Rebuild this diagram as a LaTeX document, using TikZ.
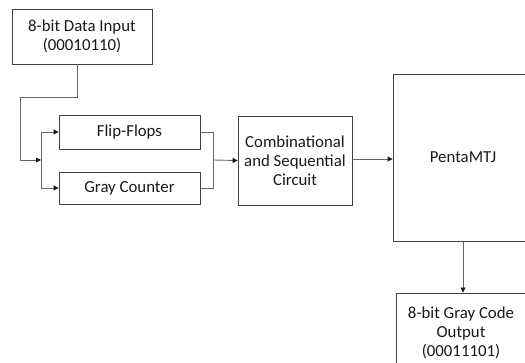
\documentclass[tikz,border=0pt]{standalone}
\usepackage{fontspec}
\setmainfont{Carlito}
\usetikzlibrary{arrows.meta}
\begin{document}
\begin{tikzpicture}[x=1pt,y=-1pt,
  blk/.style={draw=black!75, line width=0.9pt, inner sep=0pt, align=center,
    font=\fontsize{16.8}{19}\selectfont, text=black!90},
  conn/.style={draw=black!60, line width=0.9pt},
  arr/.style={conn, -{Triangle[length=5pt,width=5pt,fill=black!90,color=black!90]}}]
\useasboundingbox (0,0) rectangle (525,363);
\clip (0,0) rectangle (525,363);
\node[blk, minimum width=140pt, minimum height=55pt] (in) at (82,36.5) {8-bit Data Input\\(00010110)};
\node[blk, minimum width=141pt, minimum height=34pt] (ff) at (129.5,132) {Flip-Flops};
\node[blk, minimum width=141pt, minimum height=32pt] (gc) at (129.5,188) {Gray Counter};
\node[blk, minimum width=114pt, minimum height=89pt] (cs) at (295,160.5) {Combinational\\and Sequential\\Circuit};
\node[blk, minimum width=140pt, minimum height=167pt] (pm) at (463,157.5) {PentaMTJ};
\node[blk, minimum width=130pt, minimum height=78pt, text depth=0pt] (out) at (461,332) {8-bit Gray Code\\Output\\(00011101)};
\coordinate (a1) at (77,64);
\coordinate (a2) at (77,97);
\coordinate (a3) at (20,97);
\coordinate (a4) at (20,160);
\coordinate (sp) at (41,160);
\coordinate (spT) at (41,132);
\coordinate (spB) at (41,188);
\coordinate (m1) at (213,132);
\coordinate (m2) at (213,188);
\coordinate (mj) at (213,160);
\draw[arr] (a1) -- (a2) -- (a3) -- (a4) -- (sp);
\draw[conn] (spT) -- (spB);
\draw[arr] (spT) -- (ff.west);
\draw[arr] (spB) -- (gc.west);
\draw[conn] (ff.east) -- (m1) -- (m2) -- (gc.east);
\draw[arr] (mj) -- (cs.west);
\draw[arr] (cs.east |- 0,159) -- (pm.west |- 0,159);
\draw[arr] (pm.south) -- (pm.south |- out.north);
\end{tikzpicture}
\end{document}
